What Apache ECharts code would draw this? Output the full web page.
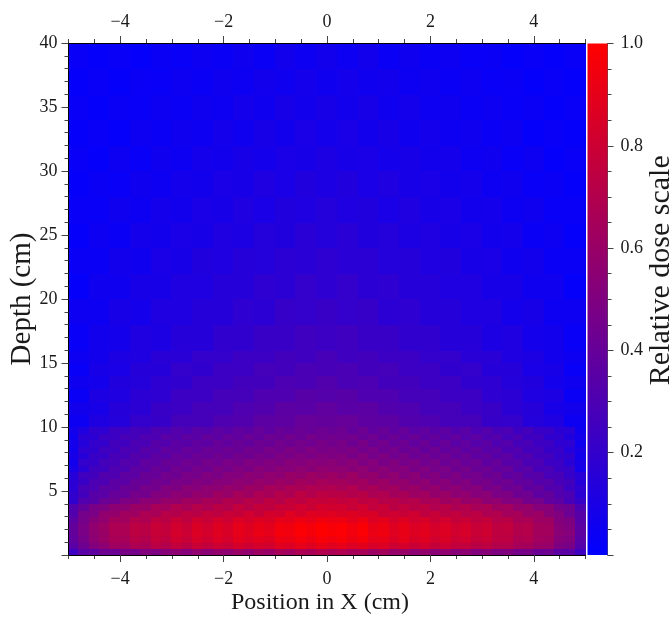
<!DOCTYPE html>
<html><head><meta charset="utf-8">
<script src="https://cdn.jsdelivr.net/npm/echarts@6/dist/echarts.min.js"></script>
<style>html,body{margin:0;padding:0;background:#fff}#c{width:669px;height:617px}</style>
</head><body><div id="c"></div>
<script>
const xRange = [-5, 5];
const depthRange = [0, 40];
const doseRange = [0, 1];
const xMajorTicks = [-4, -2, 0, 2, 4];
const xMinorTicks = [-5, -4.5, -3.5, -3, -2.5, -1.5, -1, -0.5, 0.5, 1, 1.5, 2.5, 3, 3.5, 4.5, 5];
const colorScale = ['#0000ff', '#ff0000'];
// depth bin edges (cm)
const depthEdges = [0,0.5,1,1.5,2,2.5,3,3.5,4,4.5,5,5.5,6,6.5,7,7.5,8,8.5,9,9.5,10,11,12,13,14,15,16,18,20,22,24,26,28,30,32,34,36,38,40];
// relative dose (percent), one row per depth bin, columns span x = -5..5
const doseRows = [
[24,35,37,43,42,47,46,51,49,53,55,52,57,54,58,56,60,57,62,60,65,63,68,66,70,67,69,65,66,61,64,59,60,56,58,54,57,53,55,51,53,49,50,46,47,42,43,36,35,25],
[35,43,51,55,62,61,68,66,73,70,76,73,79,76,80,78,83,80,83,82,88,86,90,87,91,88,90,86,89,84,86,80,83,79,82,77,80,76,76,72,74,70,70,65,64,60,59,49,47,33],
[38,46,55,60,66,65,72,70,77,75,81,78,84,81,86,83,89,86,89,87,93,92,96,93,97,95,97,93,96,90,91,86,90,85,87,82,85,80,82,77,79,74,74,68,69,63,62,52,50,35],
[39,48,56,60,67,67,74,72,78,77,83,80,86,83,88,85,90,88,92,90,96,95,99,96,100,98,99,95,99,92,94,88,91,87,89,84,87,82,84,79,81,75,75,70,71,64,64,54,52,37],
[39,48,57,61,68,67,74,73,79,76,82,79,85,82,87,84,90,87,91,89,95,94,98,96,100,97,99,95,98,91,93,87,91,86,88,83,86,81,83,78,80,75,76,70,71,64,63,53,50,36],
[36,46,53,57,64,63,70,68,75,73,79,75,81,78,83,80,86,83,87,85,90,89,93,90,94,92,93,89,93,86,89,83,87,82,84,79,82,77,79,75,77,71,72,66,67,61,61,51,49,34],
[32,46,48,57,58,63,62,68,66,72,70,75,72,77,74,79,77,82,77,83,81,88,83,88,86,88,85,87,84,85,79,81,78,81,75,78,73,76,71,74,68,70,64,66,59,61,53,50,42,34],
[32,39,47,49,55,55,60,59,65,63,69,66,71,68,73,70,76,72,77,75,79,78,82,79,83,81,82,78,82,76,79,73,76,72,74,69,72,67,70,65,67,62,63,57,59,52,53,45,43,30],
[19,32,34,42,43,49,49,55,54,59,58,63,61,66,64,70,67,72,69,75,71,77,74,79,77,79,76,78,74,76,71,73,69,71,66,68,62,65,59,62,55,57,51,52,45,46,38,36,28,21],
[19,26,34,35,40,40,46,45,51,50,55,53,58,56,62,59,65,62,68,65,71,68,74,70,74,72,73,70,72,67,69,64,66,61,63,58,60,55,57,52,54,48,49,43,44,37,39,32,30,17],
[16,28,30,36,36,41,41,46,45,50,49,54,52,56,55,59,57,62,60,65,63,67,66,69,67,69,66,69,63,66,61,63,58,60,55,58,52,55,50,52,46,48,42,44,37,39,32,32,24,18],
[17,22,30,30,36,35,41,40,45,43,48,47,51,49,53,52,56,54,59,57,61,59,64,61,65,63,64,61,63,58,61,56,58,53,56,50,53,48,51,45,47,42,44,38,39,33,34,28,26,15],
[14,25,26,32,31,37,36,41,40,45,43,48,46,50,48,52,51,55,53,57,55,60,58,61,59,61,58,61,56,58,53,56,51,54,48,51,46,49,44,46,41,43,37,39,33,34,28,28,21,16],
[10,17,25,25,31,31,36,36,41,39,44,42,46,44,49,46,50,48,53,50,54,52,56,53,57,55,56,53,56,51,54,50,52,47,50,46,48,43,46,41,43,38,40,33,35,28,29,23,21,8],
[7,20,21,27,28,33,32,38,37,41,40,44,42,46,44,48,46,50,48,51,49,53,51,54,52,54,51,54,49,52,47,51,46,49,44,47,42,45,40,43,37,40,34,35,29,30,23,23,16,9],
[9,15,22,22,28,28,33,32,37,35,40,38,42,40,44,41,45,43,47,45,49,47,50,48,51,49,51,47,51,46,49,44,47,42,45,41,44,39,42,37,39,34,36,30,32,26,26,20,19,7],
[7,18,19,25,25,30,29,34,33,38,36,40,38,42,40,43,41,45,43,47,45,49,46,50,47,49,47,49,45,48,43,46,41,44,39,43,38,41,36,39,34,36,30,32,26,27,21,21,14,9],
[8,14,20,20,26,25,30,29,34,32,36,34,38,36,40,38,41,39,43,41,45,43,46,44,47,45,47,43,47,42,45,40,43,38,42,37,40,35,38,33,36,31,33,27,29,24,24,18,18,6],
[6,17,17,23,23,28,27,31,30,35,33,37,35,39,36,40,38,42,39,43,41,45,42,46,43,45,43,45,41,44,39,42,38,41,36,39,35,38,33,36,31,33,27,30,24,25,19,19,13,8],
[8,12,19,18,24,23,27,26,31,29,33,31,35,33,37,34,38,36,40,37,41,39,42,40,43,41,43,39,43,38,41,37,40,35,38,34,37,32,35,30,33,28,30,24,27,22,22,17,16,6],
[5,12,14,20,21,27,27,31,32,36,37,40,39,40,37,36,32,31,27,27,21,20,14,12,5],
[7,9,15,17,22,23,27,27,31,32,36,35,38,35,36,32,31,27,27,23,22,17,15,9,7],
[4,11,12,17,18,23,23,27,27,31,31,34,33,34,31,31,27,27,23,23,18,17,12,11,4],
[6,8,13,14,18,19,23,23,26,26,30,29,32,29,30,26,26,23,23,19,18,14,13,8,6],
[3,9,10,15,15,20,19,23,23,27,26,29,28,29,26,27,23,23,19,20,15,15,10,9,3],
[5,7,11,12,16,16,20,20,23,23,26,25,28,25,26,23,23,20,20,16,16,12,11,7,5],
[3,7,8,12,11,15,15,19,19,22,22,25,23,25,22,22,19,19,15,15,11,12,8,7,3],
[5,5,9,8,12,12,15,15,18,17,21,20,22,20,21,17,18,15,15,12,12,8,9,5,5],
[2,6,6,9,9,12,12,15,15,18,17,20,18,20,17,18,15,15,12,12,9,9,6,6,2],
[4,4,7,6,10,9,13,12,15,14,17,16,18,16,17,14,15,12,13,9,10,6,7,4,4],
[2,5,4,8,7,10,9,12,11,14,13,16,14,16,13,14,11,12,9,10,7,8,4,5,2],
[3,3,6,5,8,7,10,9,12,10,13,12,14,12,13,10,12,9,10,7,8,5,6,3,3],
[2,4,3,6,5,8,7,10,9,12,10,13,11,13,10,12,9,10,7,8,5,6,3,4,2],
[3,2,5,3,6,5,8,7,9,8,10,9,11,9,10,8,9,7,8,5,6,3,5,2,3],
[2,3,2,5,4,6,5,8,6,9,7,10,8,10,7,9,6,8,5,6,4,5,2,3,2],
[3,2,4,3,5,4,6,5,8,6,9,7,9,7,9,6,8,5,6,4,5,3,4,2,3],
[2,3,2,4,3,5,4,6,5,7,6,8,6,8,6,7,5,6,4,5,3,4,2,3,2],
[3,2,3,2,4,3,5,4,6,4,7,5,7,5,7,4,6,4,5,3,4,2,3,2,3]
];

const cells = [];
doseRows.forEach((row, r) => {
  const n = row.length, dx = (xRange[1] - xRange[0]) / n;
  row.forEach((v, i) => {
    cells.push([xRange[0] + i * dx, xRange[0] + (i + 1) * dx, depthEdges[r], depthEdges[r + 1], v / 100]);
  });
});

const FONT = 'Liberation Serif';
const TXT = '#1a1a1a';
const fmtX = v => (v < 0 ? '\u2212' + Math.abs(v) : String(v));
const lbl = (size) => ({fontFamily: FONT, fontSize: size, color: TXT});

const rectFrom = (api) => {
  const p0 = api.coord([api.value(0), api.value(3)]);
  const p1 = api.coord([api.value(1), api.value(2)]);
  const x0 = Math.floor(p0[0]), y0 = Math.floor(p0[1]);
  const x1 = Math.ceil(p1[0]), y1 = Math.ceil(p1[1]);
  return {x: x0, y: y0, width: x1 - x0, height: y1 - y0};
};

const chart = echarts.init(document.getElementById('c'));
chart.setOption({
  animation: false,
  backgroundColor: '#fff',
  grid: [
    {left: 68.5, top: 43, width: 517, height: 512, containLabel: false, outerBoundsMode: 'none'},
    {left: 587.5, top: 43.5, width: 20, height: 511.5, containLabel: false, outerBoundsMode: 'none'}
  ],
  visualMap: {show: false, type: 'continuous', min: doseRange[0], max: doseRange[1], dimension: 4, seriesIndex: 0, inRange: {color: colorScale}},
  xAxis: [
    {gridIndex: 0, type: 'value', min: xRange[0], max: xRange[1], position: 'bottom', z: 5,
     axisLine: {show: true, onZero: false, lineStyle: {color: '#000', width: 1}},
     axisTick: {show: true, customValues: xMajorTicks, length: 7, lineStyle: {color: '#444'}},
     axisLabel: {customValues: xMajorTicks, formatter: fmtX, margin: 15, ...lbl(18)},
     splitLine: {show: false},
     name: 'Position in X (cm)', nameLocation: 'middle', nameGap: 36, nameMoveOverlap: false,
     nameTextStyle: {...lbl(24), padding: [0, 14, 0, 0]}},
    {gridIndex: 0, type: 'value', min: xRange[0], max: xRange[1], position: 'bottom',
     axisLine: {show: false, onZero: false}, axisTick: {show: true, customValues: xMinorTicks, length: 4, lineStyle: {color: '#444'}},
     axisLabel: {show: false}, splitLine: {show: false}},
    {gridIndex: 0, type: 'value', min: xRange[0], max: xRange[1], position: 'top', z: 5,
     axisLine: {show: true, onZero: false, lineStyle: {color: '#000', width: 1}},
     axisTick: {show: true, customValues: xMajorTicks, length: 7, lineStyle: {color: '#444'}},
     axisLabel: {customValues: xMajorTicks, formatter: fmtX, margin: 12, ...lbl(18)},
     splitLine: {show: false}},
    {gridIndex: 0, type: 'value', min: xRange[0], max: xRange[1], position: 'top',
     axisLine: {show: false, onZero: false}, axisTick: {show: true, customValues: xMinorTicks, length: 4, lineStyle: {color: '#444'}},
     axisLabel: {show: false}, splitLine: {show: false}},
    {gridIndex: 1, type: 'value', min: 0, max: 1, show: false}
  ],
  yAxis: [
    {gridIndex: 0, type: 'value', min: depthRange[0], max: depthRange[1], interval: 5, position: 'left', z: 5,
     axisLine: {show: true, onZero: false, lineStyle: {color: '#000', width: 1}},
     axisTick: {show: true, length: 7, lineStyle: {color: '#444'}},
     minorTick: {show: true, splitNumber: 5, length: 4, lineStyle: {color: '#444'}},
     axisLabel: {formatter: v => (v === 0 ? '' : String(v)), margin: 11, ...lbl(18)},
     splitLine: {show: false}, minorSplitLine: {show: false},
     name: 'Depth (cm)', nameLocation: 'middle', nameGap: 32, nameMoveOverlap: false, nameTextStyle: lbl(29)},
    {gridIndex: 1, type: 'value', min: doseRange[0], max: doseRange[1], interval: 0.2, position: 'right',
     axisLine: {show: true, onZero: false, lineStyle: {color: '#555', width: 1}},
     axisTick: {show: true, length: 6, lineStyle: {color: '#444'}},
     minorTick: {show: true, splitNumber: 4, length: 4, lineStyle: {color: '#444'}},
     axisLabel: {formatter: v => (v === 0 ? '' : v.toFixed(1)), margin: 13, ...lbl(18)},
     splitLine: {show: false}, minorSplitLine: {show: false},
     name: 'Relative dose scale', nameLocation: 'middle', nameRotate: 90, nameGap: 39, nameMoveOverlap: false,
     nameTextStyle: {...lbl(30), padding: [0, 0, 0, 58]}}
  ],
  series: [
    {type: 'custom', coordinateSystem: 'cartesian2d', xAxisIndex: 0, yAxisIndex: 0, data: cells,
     encode: {x: [0, 1], y: [2, 3]}, clip: true, silent: true,
     renderItem: (params, api) => ({type: 'rect', shape: rectFrom(api), style: {fill: api.visual('color')}})},
    {type: 'custom', coordinateSystem: 'cartesian2d', xAxisIndex: 4, yAxisIndex: 1, data: [[0, 1, doseRange[0], doseRange[1]]],
     encode: {x: [0, 1], y: [2, 3]}, silent: true,
     renderItem: (params, api) => {
       const p0 = api.coord([api.value(0), api.value(3)]);
       const p1 = api.coord([api.value(1), api.value(2)]);
       return {type: 'rect', shape: {x: p0[0], y: p0[1], width: p1[0] - p0[0], height: p1[1] - p0[1]},
               style: {fill: new echarts.graphic.LinearGradient(0, 1, 0, 0, [
                 {offset: 0, color: colorScale[0]}, {offset: 1, color: colorScale[1]}])}};
     }}
  ]
});
</script></body></html>
